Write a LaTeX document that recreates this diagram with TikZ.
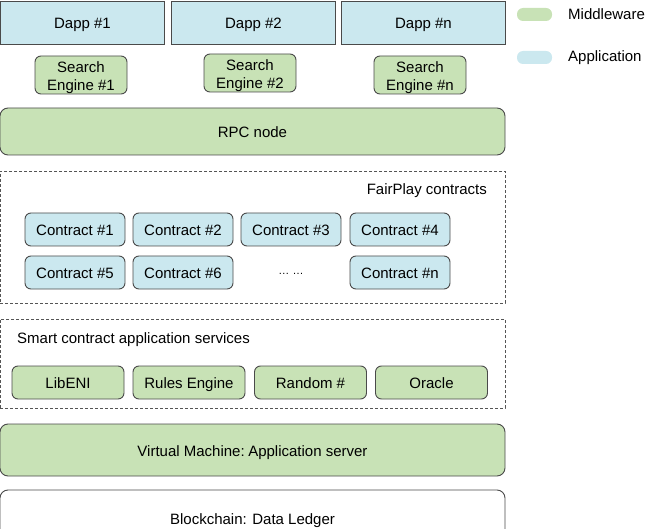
\documentclass[tikz,border=0pt]{standalone}
\usepackage{fontspec}
\setmainfont{Liberation Sans}
\definecolor{midgreen}{HTML}{C8E2B6}
\definecolor{appblue}{HTML}{CBE8EF}
\definecolor{linec}{HTML}{4A4A4A}
\definecolor{dashc}{HTML}{555555}
\newcommand{\fs}{\fontsize{15}{18}\selectfont}
\tikzset{
  base/.style={draw=linec, line width=0.9pt, font=\fs, inner sep=0pt, outer sep=0pt, text=black, text height=12.5pt, text depth=0pt},
  dappbox/.style={base, fill=appblue, minimum width=164pt, minimum height=43pt},
  appbox/.style={base, fill=appblue, rounded corners=6pt, minimum width=100pt, minimum height=33pt},
  midbox/.style={base, fill=midgreen, rounded corners=6pt},
  searchbox/.style={midbox, minimum width=92pt, minimum height=38pt},
  svcbox/.style={midbox, minimum width=112pt, minimum height=33pt},
  barbox/.style={midbox, rounded corners=8pt, minimum width=505pt},
  groupbox/.style={draw=dashc, line width=0.8pt, dash pattern=on 3pt off 2pt, minimum width=505pt, inner sep=0pt, outer sep=0pt},
  swatch/.style={rounded corners=6pt, minimum width=35pt, minimum height=13pt, inner sep=0pt},
  lbl/.style={font=\fs, inner sep=0pt, text=black}
}
\begin{document}
\begin{tikzpicture}[x=1pt,y=1pt]
\useasboundingbox (0,0) rectangle (650,-529);
\begin{scope}
\clip (0,0) rectangle (650,-529);
% applications
\node[dappbox] (d1) at (82.5,-22.5) {Dapp \#1};
\node[dappbox] (d2) at (253.5,-22.5) {Dapp \#2};
\node[dappbox] (dn) at (423.5,-22.5) {Dapp \#n};
% search engines
\node[searchbox] (s1) at (81,-75) {};
\node[searchbox] (s2) at (250,-73) {};
\node[searchbox] (sn) at (420,-75) {};
\node[lbl, align=center] (s1t) at ([yshift=-2.5pt]s1.center) {Search\\Engine \#1};
\node[lbl, align=center] (s2t) at ([yshift=-2.5pt]s2.center) {Search\\Engine \#2};
\node[lbl, align=center] (snt) at ([yshift=-2.5pt]sn.center) {Search\\Engine \#n};
% RPC
\node[barbox, minimum height=47pt] (rpc) at (252.5,-131.5) {RPC node};
% FairPlay contracts
\node[groupbox, minimum height=132pt] (fp) at (252.5,-237) {};
\node[lbl, anchor=east] (fpl) at (487,-191) {FairPlay contracts};
\node[appbox] (c1) at (75,-229.5) {Contract \#1};
\node[appbox] (c2) at (183,-229.5) {Contract \#2};
\node[appbox] (c3) at (291,-229.5) {Contract \#3};
\node[appbox] (c4) at (400,-229.5) {Contract \#4};
\node[appbox] (c5) at (75,-272.5) {Contract \#5};
\node[appbox] (c6) at (183,-272.5) {Contract \#6};
\node[lbl] (dots) at (291,-274) {\fontsize{11}{13}\selectfont\dots\ \dots};
\node[appbox] (cn) at (400,-272.5) {Contract \#n};
% services
\node[groupbox, minimum height=89pt] (sc) at (252.5,-363.5) {};
\node[lbl, anchor=west] (scl) at (17,-340) {Smart contract application services};
\node[svcbox] (lib) at (68,-382.5) {LibENI};
\node[svcbox] (rules) at (189,-382.5) {Rules Engine};
\node[svcbox] (rand) at (310.5,-382.5) {Random \#};
\node[svcbox] (orc) at (431.5,-382.5) {Oracle};
% VM
\node[barbox, minimum height=52pt] (vm) at (252.5,-450) {Virtual Machine:\hspace{-2pt} Application server};
% blockchain
\node[base, fill=white, rounded corners=8pt, minimum width=505pt, minimum height=56pt] (bc) at (252.5,-518) {Blockchain: Data Ledger};
\end{scope}
% legend
\node[swatch, fill=midgreen] (lgm) at (534.5,-14.5) {};
\node[lbl, anchor=west] (lgmt) at (568,-14.5) {Middleware};
\node[swatch, fill=appblue] (lga) at (534.5,-57.5) {};
\node[lbl, anchor=west] (lgat) at (568,-57.5) {Application};
\end{tikzpicture}
\end{document}
